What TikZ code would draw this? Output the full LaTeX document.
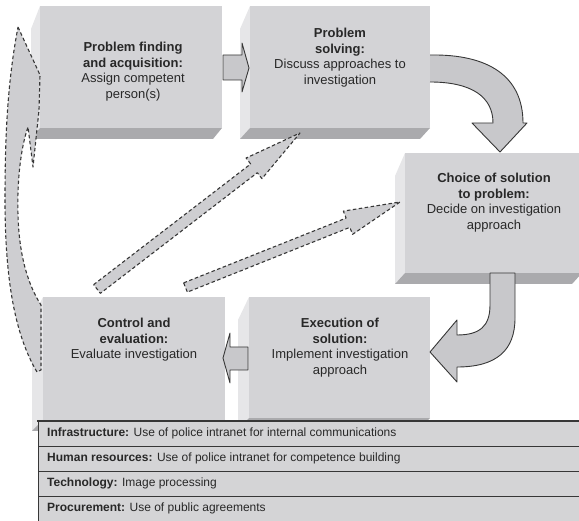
\documentclass[tikz,border=0pt]{standalone}
\usepackage{fontspec}
\setmainfont{Liberation Sans}
\usetikzlibrary{calc}
\definecolor{frontc}{RGB}{211,211,214}
\definecolor{sidec}{RGB}{230,230,232}
\definecolor{bottomc}{RGB}{170,170,173}
\definecolor{arrfill}{RGB}{200,200,203}
\definecolor{dfill}{RGB}{206,206,209}
\definecolor{edgec}{RGB}{55,55,55}
\definecolor{txtc}{RGB}{40,40,40}
\definecolor{rowfill}{RGB}{212,212,214}
% front face x1,y1,x2,y2 ; depth dx
\newcommand{\solidbox}[5]{%
  \fill[sidec] (#1,#2) -- (#1-#5,#2+23) -- (#1-#5,#4+11) -- (#1,#4) -- cycle;
  \fill[bottomc] (#1,#4) -- (#3,#4) -- (#3-#5,#4+11) -- (#1-#5,#4+11) -- cycle;
  \fill[frontc] (#1,#2) rectangle (#3,#4);
}
% tail, tip, shaft half width, head half width, head length
\newcommand{\slimarrow}[5]{%
  \coordinate (tmpB) at ($(#2)!#5!(#1)$);
  \draw[dasharrow] ($(#1)!#3!90:(#2)$) -- ($(tmpB)!#3!90:(#2)$) -- ($(tmpB)!#4!90:(#2)$) -- (#2)
    -- ($(tmpB)!#4!-90:(#2)$) -- ($(tmpB)!#3!-90:(#2)$) -- ($(#1)!#3!-90:(#2)$) -- cycle;
}
\begin{document}
\begin{tikzpicture}[x=1pt,y=-1pt,
  boxtext/.style={align=center,inner sep=0,anchor=north,text=txtc,font=\fontsize{13}{15.5}\selectfont},
  rowtext/.style={inner sep=0,anchor=west,text=txtc,font=\fontsize{12}{14}\selectfont},
  blockarrow/.style={fill=arrfill,draw=edgec,line width=0.9pt,line join=round},
  dasharrow/.style={fill=dfill,draw=edgec,line width=1.1pt,dash pattern=on 3.5pt off 2.5pt,line join=round},
  rowbox/.style={fill=rowfill,draw=edgec,line width=0.9pt}]
\useasboundingbox (0,0) rectangle (579,521);

% boxes
\solidbox{40}{6}{222}{128}{9}
\solidbox{250}{6}{430}{128}{10}
\solidbox{405}{153}{582}{273}{10}
\solidbox{43}{297}{225}{420}{11}
\solidbox{249}{297}{430}{418}{11}

\node[boxtext] (b1) at (133,42) {\textbf{Problem finding}\\\textbf{and acquisition:}\\Assign competent\\person(s)};
\node[boxtext] (b2) at (340,28) {\textbf{Problem}\\\textbf{solving:}\\Discuss approaches to\\investigation};
\node[boxtext] (b3) at (494,173) {\textbf{Choice of solution}\\\textbf{to problem:}\\Decide on investigation\\approach};
\node[boxtext] (b4) at (134,318) {\textbf{Control and}\\\textbf{evaluation:}\\Evaluate investigation};
\node[boxtext] (b5) at (340,318) {\textbf{Execution of}\\\textbf{solution:}\\Implement investigation\\approach};

% block arrows
\draw[blockarrow] (223,55) -- (242,55) -- (242,43) -- (249,68) -- (242,92) -- (242,80) -- (223,80) -- cycle;
\draw[blockarrow] (248,347) -- (230,347) -- (230,333) -- (223,358) -- (230,383) -- (230,370) -- (248,370) -- cycle;
\draw[blockarrow] (430,55) .. controls (488,54) and (523,76) .. (523,123) -- (527,123) -- (500,152) -- (472,123) -- (493,123) .. controls (493,97) and (472,82) .. (430,82);
\draw[blockarrow] (490,273) -- (490,305) .. controls (490,326) and (480,335) .. (457,335) -- (457,320) -- (430,352) -- (457,382) -- (457,367) .. controls (497,367) and (515,350) .. (515,318) -- (515,273) -- cycle;

% dashed arrows
\coordinate (aT) at (97,289); \coordinate (aP) at (300,133);
\slimarrow{aT}{aP}{5.5pt}{13pt}{58pt}
\coordinate (bT) at (185.5,287.5); \coordinate (bP) at (400,202);
\slimarrow{bT}{bP}{5pt}{12.5pt}{56pt}
\draw[dasharrow] (18,27) -- (40,75) -- (39,110) -- (33,167) -- (28,127)
  .. controls (20,150) and (17,185) .. (18,215)
  .. controls (19,255) and (28,285) .. (41,305) -- (41,370) -- (37,372)
  .. controls (15,335) and (5,280) .. (5,200)
  .. controls (5,130) and (8,80) .. (18,27) -- cycle;

% table
\foreach \i/\b/\t in {0/Infrastructure:/Use of police intranet for internal communications,
                      1/Human resources:/Use of police intranet for competence building,
                      2/Technology:/Image processing,
                      3/Procurement:/Use of public agreements}{
  \draw[rowbox] (38,421+25*\i) rectangle (582,446+25*\i);
  \node[rowtext] (r\i) at (47,433.5+25*\i) {\textbf{\b} \t};
}
\draw[edgec,line width=2pt] (37,421) -- (582,421);
\end{tikzpicture}
\end{document}
